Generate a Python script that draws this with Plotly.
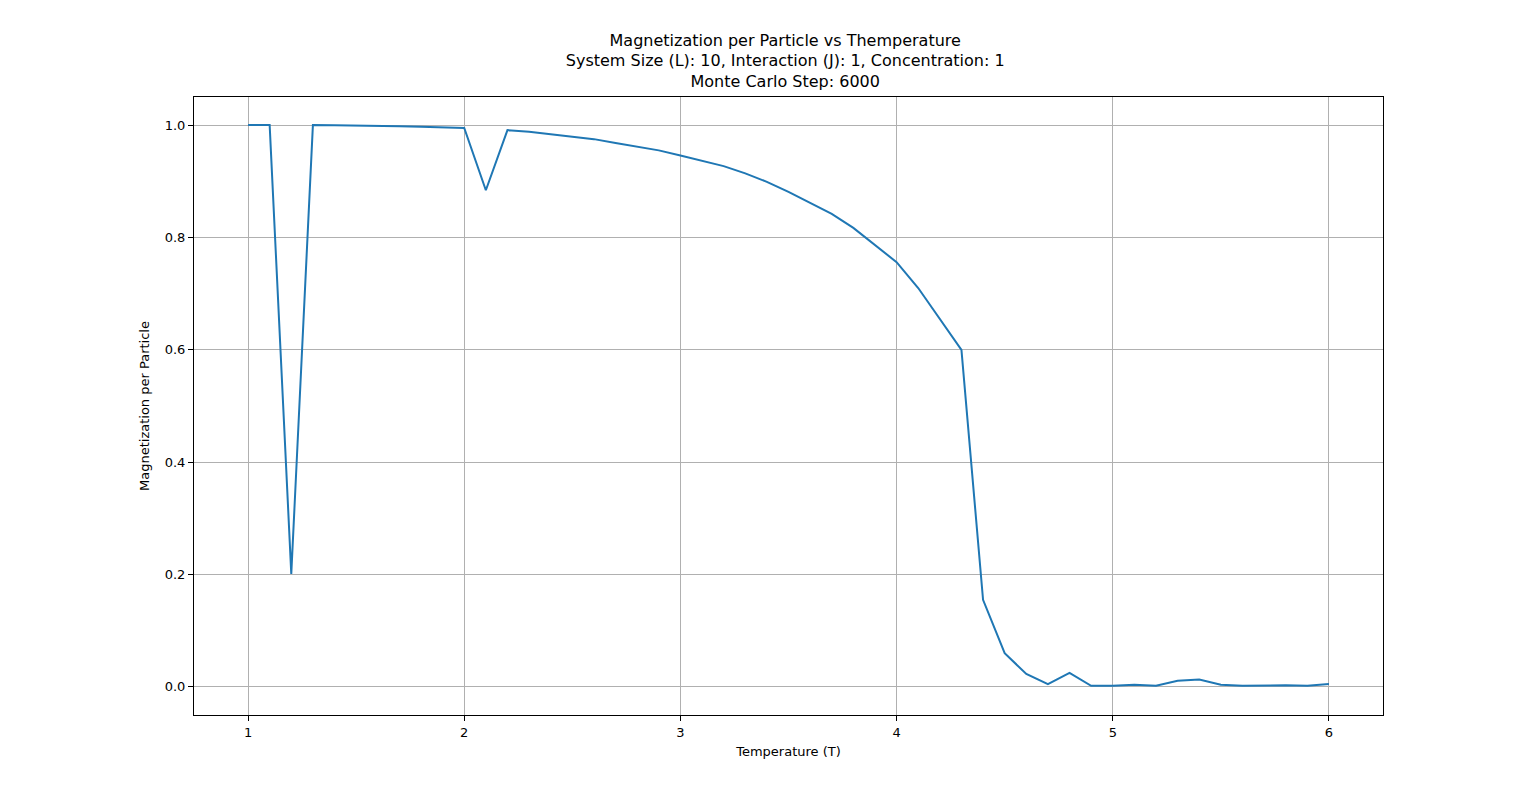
import plotly.graph_objects as go

temperature = [round(1.0 + 0.1 * i, 1) for i in range(51)]
magnetization = [
    1.0, 1.0, 0.201, 1.0, 0.9998, 0.9995, 0.999, 0.998, 0.997, 0.996,
    0.995, 0.884, 0.991, 0.988, 0.984, 0.980, 0.975, 0.968, 0.962, 0.955,
    0.946, 0.937, 0.927, 0.914, 0.899, 0.881, 0.861, 0.842, 0.817, 0.786,
    0.756, 0.710, 0.655, 0.600, 0.155, 0.060, 0.023, 0.005, 0.025, 0.002,
    0.002, 0.004, 0.002, 0.011, 0.013, 0.004, 0.002, 0.003, 0.003, 0.002,
    0.005,
]

fig = go.Figure()
fig.add_trace(go.Scatter(
    x=temperature, y=magnetization, mode='lines',
    line=dict(color='#1f77b4', width=2),
))

axis_style = dict(
    showline=True, linecolor='black', linewidth=1, mirror=True,
    showgrid=True, gridcolor='#b0b0b0', gridwidth=1,
    ticks='outside', ticklen=5, tickcolor='black', zeroline=False,
    tickfont=dict(size=13, color='black'),
)

fig.update_layout(
    width=1536, height=802,
    paper_bgcolor='white', plot_bgcolor='white',
    font=dict(family='DejaVu Sans', color='black'),
    showlegend=False,
    margin=dict(l=186, r=161, t=89, b=95),
    title=dict(
        text='Magnetization per Particle vs Themperature<br>'
             'System Size (L): 10, Interaction (J): 1, Concentration: 1<br>'
             'Monte Carlo Step: 6000',
        x=0.506, xanchor='center', y=0.953, yanchor='top',
        font=dict(size=16),
    ),
    xaxis=dict(axis_style, range=[0.75, 6.25], dtick=1,
               title=dict(text='Temperature (T)', font=dict(size=13), standoff=8)),
    yaxis=dict(axis_style, range=[-0.05, 1.05], dtick=0.2, tickformat='.1f',
               title=dict(text='Magnetization per Particle', font=dict(size=13), standoff=12)),
)

fig.write_html('out.html')
